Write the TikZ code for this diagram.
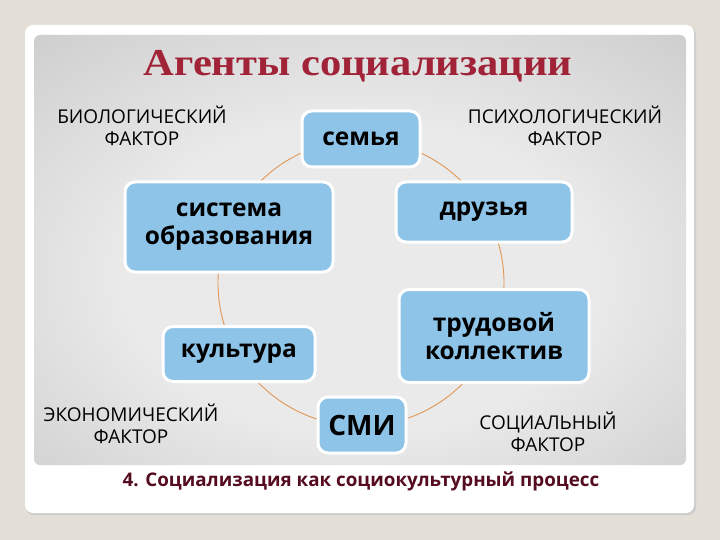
\documentclass[tikz,border=0pt]{standalone}
\usepackage{fontspec}
\setmainfont{Open Sans}
\newfontfamily\titlefont[FakeStretch=1.12]{Liberation Serif}
\newfontfamily\boxfont{Open Sans}
\definecolor{bgbeige}{RGB}{228,223,214}
\definecolor{boxblue}{RGB}{142,196,232}
\definecolor{ringorange}{RGB}{226,150,85}
\definecolor{titlered}{RGB}{160,35,55}
\definecolor{capmaroon}{RGB}{85,12,30}
\definecolor{paneledge}{RGB}{158,158,158}
\definecolor{panelout}{RGB}{188,188,188}
\definecolor{panelmid}{RGB}{234,234,234}
\pgfdeclareradialshading{panelshade}{\pgfpoint{0bp}{-4bp}}{color(0bp)=(panelmid); color(18bp)=(panelmid); color(50bp)=(panelout); color(72bp)=(paneledge); color(100bp)=(paneledge)}
\tikzset{
  agent/.style={draw=white, line width=3pt, fill=boxblue, rounded corners=10pt,
    align=center, text=black, font=\boxfont\bfseries\fontsize{24.5}{28}\selectfont, inner sep=0pt},
  factor/.style={align=center, text=black, font=\fontsize{19}{22}\selectfont},
  ring/.style={draw=ringorange, line width=0.9pt}
}
\begin{document}
\begin{tikzpicture}[x=1pt,y=-1pt]
\useasboundingbox (0,0) rectangle (720,540);
\fill[bgbeige] (0,0) rectangle (720,540);
% card
\fill[black!20, rounded corners=8pt] (26,27) rectangle (696,515);
\fill[white, rounded corners=8pt] (25,25) rectangle (694,513);
% panel
\shade[shading=panelshade, rounded corners=6pt] (34,35) rectangle (686,465);
% title
\node[text=titlered, font=\titlefont\bfseries\fontsize{38}{40}\selectfont] (title) at (358,66) {Агенты социализации};
% ring
\coordinate (ctr) at (361,283);
\draw[ring] (ctr) circle (143);
% agents
\node[agent, minimum width=118pt, minimum height=56pt] (sem) at (361,139) {семья};
\node[agent, minimum width=208pt, minimum height=90pt] (sys) at (229,227) {система\\образования};
\node[agent, minimum width=176pt, minimum height=60pt] (dru) at (484,212) {друзья};
\node[agent, minimum width=190pt, minimum height=93pt] (trud) at (494,336) {трудовой\\коллектив};
\node[agent, minimum width=152pt, minimum height=55pt] (kul) at (239,354) {культура};
\node[agent, minimum width=88pt, minimum height=56pt, font=\boxfont\bfseries\fontsize{28}{30}\selectfont] (smi) at (362,425) {СМИ};
% factors
\node[factor] (bio) at (142,126) {БИОЛОГИЧЕСКИЙ\\ФАКТОР};
\node[factor] (psy) at (565,126) {ПСИХОЛОГИЧЕСКИЙ\\ФАКТОР};
\node[factor] (eco) at (131,424) {ЭКОНОМИЧЕСКИЙ\\ФАКТОР};
\node[factor] (soc) at (548,432) {СОЦИАЛЬНЫЙ\\ФАКТОР};
% caption
\node[text=capmaroon, font=\bfseries\fontsize{18.8}{21}\selectfont] (cap) at (361,481) {4. Социализация как социокультурный процесс};
\end{tikzpicture}
\end{document}
